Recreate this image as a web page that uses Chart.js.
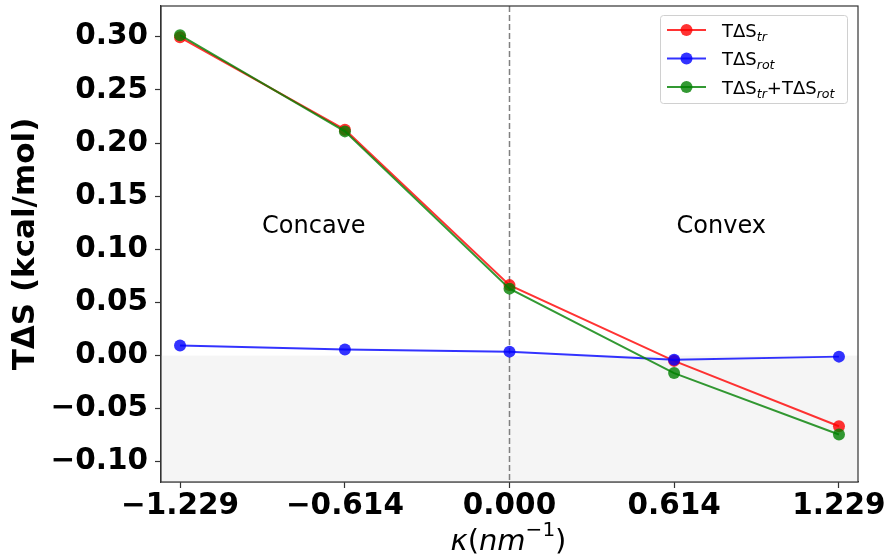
<!DOCTYPE html>
<html>
<head>
<meta charset="utf-8">
<script src="https://cdn.jsdelivr.net/npm/chart.js@4.4.0/dist/chart.umd.min.js"></script>
<style>
  html, body { margin: 0; padding: 0; background: #fff; }
  #wrap { width: 889px; height: 560px; position: relative; }
</style>
</head>
<body>
<div id="wrap"><canvas id="chart"></canvas></div>
<script>
// ── Données ────────────────────────────────────────────────────────────────────
const kappa  = [-1.229, -0.614, 0.000, 0.614, 1.229];
const tdsTr  = [0.2995, 0.2126, 0.0663, -0.0050, -0.0665];
const tdsRot = [0.0094, 0.0056, 0.0037, -0.0040, -0.0010];
const tdsTot = [0.3015, 0.2110, 0.0630, -0.0165, -0.0743];
const yTicks = [-0.10, -0.05, 0.00, 0.05, 0.10, 0.15, 0.20, 0.25, 0.30];
// légende : morceaux [texte, indice]
const legendParts = [
  [["TΔS", "tr"]],
  [["TΔS", "rot"]],
  [["TΔS", "tr"], ["+TΔS", "rot"]]
];
const regionNames = ["Concave", "Convex"];
// titre x : [texte, style, exposant]
const xTitleParts = [["κ", "italic", false], ["(", "", false], ["nm", "italic", false], ["\u22121", "", true], [")", "", false]];

// ── Style ──────────────────────────────────────────────────────────────────────
const FONT = "'DejaVu Sans', sans-serif";
const RED = "rgba(255, 0, 0, 0.8)";
const BLUE = "rgba(0, 0, 255, 0.8)";
const GREEN = "rgba(0, 128, 0, 0.8)";
const COLORS = [RED, BLUE, GREEN];
const regionPos = [{ x: -0.73, y: 0.115 }, { x: 0.79, y: 0.115 }];

function fmt(v, d) {
  if (Math.abs(v) < 1e-9) return (0).toFixed(d);
  return v < 0 ? "\u2212" + Math.abs(v).toFixed(d) : v.toFixed(d);
}

function points(ys) {
  return kappa.map((k, i) => ({ x: k, y: ys[i] }));
}

// ── Décor : zone grise, pointillés, textes, cadre, légende ─────────────────────
const decor = {
  id: "decor",
  beforeDatasetsDraw(chart) {
    const { ctx, chartArea: a, scales: { x, y } } = chart;
    ctx.save();
    const y0 = y.getPixelForValue(0);
    ctx.fillStyle = "#f5f5f5";
    ctx.fillRect(a.left, y0, a.right - a.left, a.bottom - y0);

    const x0 = x.getPixelForValue(0);
    ctx.strokeStyle = "#808080";
    ctx.lineWidth = 1.5;
    ctx.setLineDash([6, 3]);
    ctx.beginPath();
    ctx.moveTo(x0, a.top);
    ctx.lineTo(x0, a.bottom);
    ctx.stroke();
    ctx.setLineDash([]);

    ctx.fillStyle = "#000";
    ctx.font = "24px " + FONT;
    ctx.textAlign = "center";
    ctx.textBaseline = "alphabetic";
    regionNames.forEach((t, i) => {
      ctx.fillText(t, x.getPixelForValue(regionPos[i].x), y.getPixelForValue(regionPos[i].y));
    });
    ctx.restore();
  },
  afterDatasetsDraw(chart) {
    const { ctx, chartArea: a } = chart;
    ctx.save();
    ctx.strokeStyle = "#333";
    ctx.lineWidth = 1.2;
    ctx.strokeRect(a.left, a.top, a.right - a.left, a.bottom - a.top);
    ctx.restore();
  },
  afterDraw(chart) {
    const { ctx, chartArea: a } = chart;
    ctx.save();

    // titre de l'axe x, façon mathtext
    const fontFor = p => (p[1] ? p[1] + " " : "") + (p[2] ? "20px " : "29px ") + FONT;
    let w = 0;
    xTitleParts.forEach(p => { ctx.font = fontFor(p); w += ctx.measureText(p[0]).width; });
    let tx = (a.left + a.right) / 2 - w / 2 - 1;
    const tBase = a.bottom + 68;
    ctx.fillStyle = "#000";
    ctx.textAlign = "left";
    ctx.textBaseline = "alphabetic";
    xTitleParts.forEach(p => {
      ctx.font = fontFor(p);
      ctx.fillText(p[0], tx, p[2] ? tBase - 14 : tBase);
      tx += ctx.measureText(p[0]).width;
    });

    // légende
    const bw = 187, bh = 88;
    const bx = a.right - 11 - bw, by = a.top + 9;
    ctx.fillStyle = "rgba(255,255,255,0.8)";
    ctx.strokeStyle = "#d0d0d0";
    ctx.lineWidth = 1;
    ctx.beginPath();
    ctx.roundRect(bx + 0.5, by + 0.5, bw, bh, 3);
    ctx.fill();
    ctx.stroke();

    legendParts.forEach((parts, i) => {
      const cy = by + 15 + i * 28.5;
      ctx.strokeStyle = COLORS[i];
      ctx.fillStyle = COLORS[i];
      ctx.lineWidth = 2;
      ctx.beginPath();
      ctx.moveTo(bx + 7, cy);
      ctx.lineTo(bx + 46, cy);
      ctx.stroke();
      ctx.beginPath();
      ctx.arc(bx + 26.5, cy, 6, 0, Math.PI * 2);
      ctx.fill();

      let lx = bx + 62;
      const base = cy + 6.5;
      ctx.fillStyle = "#000";
      parts.forEach(([main, sub]) => {
        ctx.font = "18px " + FONT;
        ctx.fillText(main, lx, base);
        lx += ctx.measureText(main).width;
        ctx.font = "italic 12.6px " + FONT;
        ctx.fillText(sub, lx, base + 4);
        lx += ctx.measureText(sub).width;
      });
    });
    ctx.restore();
  }
};

// ── Graphique ──────────────────────────────────────────────────────────────────
const tickFont = { family: FONT, size: 29.5, weight: "bold" };

new Chart(document.getElementById("chart"), {
  type: "line",
  data: {
    datasets: [
      { label: "TΔS_tr", data: points(tdsTr), borderColor: RED, backgroundColor: RED, order: 2 },
      { label: "TΔS_rot", data: points(tdsRot), borderColor: BLUE, backgroundColor: BLUE, order: 1 },
      { label: "TΔS_tr+TΔS_rot", data: points(tdsTot), borderColor: GREEN, backgroundColor: GREEN, order: 0 }
    ]
  },
  options: {
    responsive: true,
    maintainAspectRatio: false,
    animation: false,
    layout: { padding: { top: 4, right: 31, left: 0, bottom: 0 } },
    plugins: { legend: { display: false }, tooltip: { enabled: false } },
    elements: {
      line: { borderWidth: 2, tension: 0 },
      point: { radius: 6, borderWidth: 0 }
    },
    scales: {
      x: {
        type: "linear",
        min: -1.3,
        max: 1.3,
        afterBuildTicks: s => { s.ticks = kappa.map(v => ({ value: v })); },
        afterFit: s => { s.height = 78; s.paddingLeft = 0; s.paddingRight = 0; },
        ticks: { font: tickFont, color: "#000", padding: 1, maxRotation: 0, autoSkip: false, callback: v => fmt(v, 3) },
        grid: { drawOnChartArea: false, tickLength: 6, color: "#333", tickWidth: 1.2 },
        border: { color: "#333", width: 1.2 },
        title: { display: false }
      },
      y: {
        min: -0.119,
        max: 0.329,
        afterBuildTicks: s => { s.ticks = yTicks.map(v => ({ value: v })); },
        afterFit: s => { s.width = 161; s.paddingTop = 0; s.paddingBottom = 0; },
        ticks: { font: tickFont, color: "#000", padding: 7, autoSkip: false, callback: v => fmt(v, 2) },
        grid: { drawOnChartArea: false, tickLength: 6, color: "#333", tickWidth: 1.2 },
        border: { color: "#333", width: 1.2 },
        title: { display: true, text: "TΔS (kcal/mol)", font: { family: FONT, size: 31, weight: "bold" }, color: "#000", padding: { top: 7, bottom: 0 } }
      }
    }
  },
  plugins: [decor]
});
</script>
</body>
</html>
